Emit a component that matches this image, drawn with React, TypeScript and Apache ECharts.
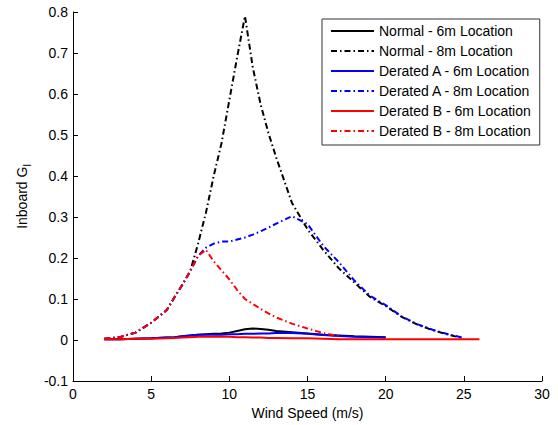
import React, { useEffect, useRef } from "react";
import * as echarts from "echarts";

const windSpeed = [2, 3, 4, 5, 6, 6.5, 7, 7.5, 8, 8.5, 9, 9.5, 10, 10.5, 11, 11.5, 12, 12.5, 13, 14, 15, 16, 17, 18, 19, 20, 21, 22, 23, 24, 25, 26];

const normal6m = [0.002, 0.002, 0.003, 0.004, 0.006, 0.007, 0.009, 0.011, 0.013, 0.014, 0.015, 0.016, 0.018, 0.022, 0.026, 0.028, 0.027, 0.025, 0.022, 0.019, 0.016, 0.013, 0.011, 0.009, 0.008, 0.007, null, null, null, null, null, null];
const normal8m = [0.003, 0.007, 0.018, 0.042, 0.073, 0.105, 0.135, 0.168, 0.235, 0.31, 0.4, 0.48, 0.585, 0.69, 0.79, 0.665, 0.575, 0.505, 0.445, 0.335, 0.27, 0.22, 0.175, 0.14, 0.105, 0.083, 0.057, 0.038, 0.024, 0.013, 0.004, null];
const deratedA6m = [0.002, 0.002, 0.003, 0.004, 0.006, 0.007, 0.009, 0.011, 0.013, 0.013, 0.013, 0.013, 0.014, 0.014, 0.015, 0.015, 0.016, 0.016, 0.017, 0.017, 0.015, 0.012, 0.01, 0.008, 0.007, 0.006, null, null, null, null, null, null];
const deratedA8m = [0.003, 0.007, 0.018, 0.042, 0.073, 0.105, 0.135, 0.168, 0.205, 0.225, 0.235, 0.24, 0.24, 0.245, 0.25, 0.257, 0.265, 0.274, 0.284, 0.302, 0.283, 0.23, 0.19, 0.145, 0.108, 0.085, 0.058, 0.039, 0.025, 0.014, 0.005, null];
const deratedB6m = [0.002, 0.002, 0.003, 0.003, 0.004, 0.005, 0.006, 0.007, 0.008, 0.008, 0.008, 0.008, 0.008, 0.007, 0.007, 0.006, 0.006, 0.005, 0.005, 0.004, 0.004, 0.003, 0.002, 0.002, 0.002, 0.002, 0.002, 0.002, 0.002, 0.002, 0.002, 0.002];
const deratedB8m = [0.003, 0.007, 0.018, 0.042, 0.073, 0.105, 0.135, 0.168, 0.205, 0.22, 0.192, 0.17, 0.148, 0.122, 0.1, 0.088, 0.076, 0.065, 0.055, 0.04, 0.028, 0.017, 0.009, null, null, null, null, null, null, null, null, null];

const seriesNames = [
  "Normal - 6m Location",
  "Normal - 8m Location",
  "Derated A - 6m Location",
  "Derated A - 8m Location",
  "Derated B - 6m Location",
  "Derated B - 8m Location",
];
const seriesValues = [normal6m, normal8m, deratedA6m, deratedA8m, deratedB6m, deratedB8m];
const seriesColors = ["#000000", "#000000", "#0000ff", "#0000ff", "#ff0000", "#ff0000"];
const seriesDashed = [false, true, false, true, false, true];

const FONT = "'Liberation Sans', Arial, sans-serif";

export default function App() {
  const ref = useRef<HTMLDivElement>(null);
  useEffect(() => {
    document.body.style.margin = "0";
    if (!ref.current) return;
    const chart = echarts.init(ref.current, undefined, { renderer: "svg" });
    const series = seriesNames.map((name, i) => ({
      name,
      type: "line",
      symbol: "none",
      connectNulls: false,
      data: windSpeed.map((x, j) => [x, seriesValues[i][j]]).filter((p) => p[1] !== null),
      lineStyle: {
        color: seriesColors[i],
        width: 2,
        type: seriesDashed[i] ? [6, 3, 1.5, 3] : "solid",
      },
      itemStyle: { color: seriesColors[i] },
    }));
    chart.setOption({
      animation: false,
      backgroundColor: "#fff",
      grid: { left: 73, right: 16, top: 12, bottom: 44 },
      xAxis: {
        type: "value",
        min: 0,
        max: 30,
        interval: 5,
        name: "Wind Speed (m/s)",
        nameLocation: "middle",
        nameGap: 24,
        nameTextStyle: { fontFamily: FONT, fontSize: 14, color: "#000" },
        axisLine: { onZero: false, lineStyle: { color: "#000", width: 1 } },
        axisTick: { inside: true, length: 5, lineStyle: { color: "#000" } },
        axisLabel: { margin: 6, color: "#000", fontSize: 14, fontFamily: FONT },
        splitLine: { show: false },
      },
      yAxis: {
        type: "value",
        min: -0.1,
        max: 0.8,
        interval: 0.1,
        name: "Inboard G{sub|l}",
        nameLocation: "middle",
        nameGap: 37,
        nameTextStyle: {
          fontFamily: FONT,
          fontSize: 14,
          color: "#000",
          rich: { sub: { fontFamily: FONT, fontSize: 11, color: "#000", padding: [10, 0, 0, 0] } },
        },
        axisLine: { show: true, onZero: false, lineStyle: { color: "#000", width: 1 } },
        axisTick: { inside: true, length: 5, lineStyle: { color: "#000" } },
        axisLabel: { margin: 5, color: "#000", fontSize: 14, fontFamily: FONT },
        splitLine: { show: false },
      },
      legend: {
        orient: "vertical",
        left: 322,
        top: 19,
        padding: [5, 9, 7, 8],
        itemWidth: 43,
        itemHeight: 14,
        itemGap: 6,
        backgroundColor: "#fff",
        borderColor: "#333",
        borderWidth: 1,
        borderRadius: 0,
        itemStyle: { opacity: 0 },
        textStyle: { fontFamily: FONT, fontSize: 14, color: "#000", lineHeight: 14 },
        data: seriesNames,
      },
      series,
    });
    return () => chart.dispose();
  }, []);
  return <div ref={ref} style={{ width: 558, height: 425 }} />;
}
